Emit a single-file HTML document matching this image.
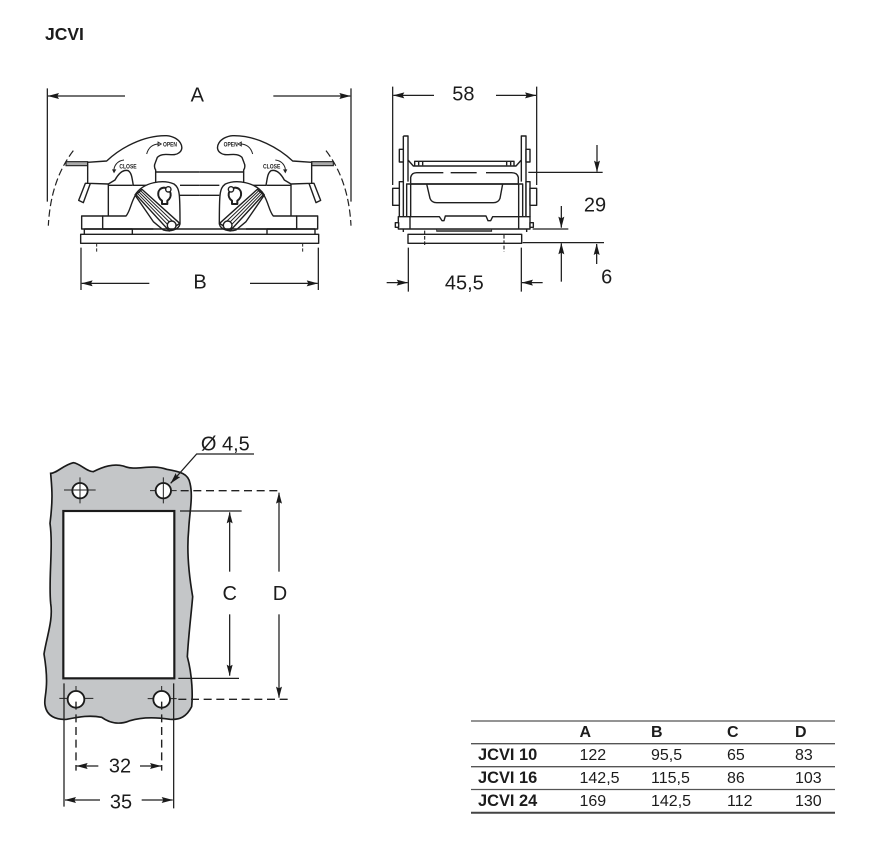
<!DOCTYPE html>
<html><head><meta charset="utf-8"><style>
html,body{margin:0;padding:0;background:#fff}
svg{display:block;filter:blur(.25px)}
text{font-family:"Liberation Sans",sans-serif;fill:#1c1c1c}
.l{fill:none;stroke:#1f1f1f;stroke-width:4.2;stroke-linejoin:round}
.t{fill:none;stroke:#222;stroke-width:3}
.f{fill:#fff;stroke:#1f1f1f;stroke-width:4.2;stroke-linejoin:round}
.d{fill:none;stroke:#1f1f1f;stroke-width:3.8}
.a{marker-end:url(#ar)}
.h{font-size:60px;text-anchor:middle}
.s{font-size:20px;font-weight:bold;text-anchor:middle}
.k{fill:none;stroke:#222;stroke-width:4.2;stroke-dasharray:24 14}
</style></head><body>
<svg width="876" height="863" viewBox="0 0 876 863" xmlns="http://www.w3.org/2000/svg">
<defs>
<marker id="ar" markerUnits="userSpaceOnUse" markerWidth="36" markerHeight="20" refX="33" refY="9" orient="auto">
<path d="M0 0L34 9L0 18L5 9Z" fill="#1a1a1a"/></marker>
<g id="half">
<path d="M100 212Q32 300 25 437" fill="none" stroke="#222" stroke-width="3.6" stroke-dasharray="22 10"/>
<rect x="78" y="245" width="65" height="12" fill="#aaa" stroke="#222" stroke-width="3.4"/>
<path class="f" d="M116 361L136 310L151 310L130 368Z"/>
<path class="f" d="M143 247L200 243C240 205 310 165 380 167C420 170 438 205 416 219C400 232 370 214 352 232L346 248C342 256 342 262 347 270L347 316L280 316C276 296 276 280 265 272C250 268 236 280 225 300L205 312L143 310Z"/>
<path class="l" d="M205 312V408M205 316H278"/>
<path class="f" d="M125 408H188V447H125Z"/>
<path class="l" d="M188 408H258C270 395 272 370 286 346M188 447H340"/>
<path class="l" d="M133 447V463M277 447V463M188 447H277"/>
<path class="l" d="M347 276H479M420 316H479M420 346H479"/>
<path class="f" d="M285 345C310 305 370 298 402 312C420 325 420 345 420 432C416 450 390 456 370 450L340 425Z"/>
<path class="f" d="M288 344L306 328L419 430L388 453Z"/>
<path class="t" d="M292.500 340L396 447M297 336L403.500 441.500M301.500 332L411 436"/>
<circle class="f" cx="395" cy="436" r="13"/>
<path class="l" style="stroke-width:6" d="M366 372V362C350 352 350 325 372 323C395 325 398 352 382 362V372Z"/>
<circle class="f" cx="385" cy="328" r="8"/>
<path class="t" d="M320 222C326 200 340 192 358 192M252 240C232 242 220 258 222 276"/>
<path d="M354 186L364 192L354 198Z" fill="none" stroke="#222" stroke-width="2.5"/>
<path d="M216 268L222 280L229 268Z" fill="#222"/>
<path class="k" style="stroke-width:3;stroke-dasharray:10 5" d="M170 490V516"/>
</g>
</defs>

<text x="45" y="40" font-size="17.5" font-weight="bold">JCVI</text>

<g transform="translate(40 80) scale(.33333)">
<path class="d" d="M22 25V365M933 25V365M123 503V630M835 503V630"/>
<path class="d a" d="M255 48H24"/><path class="d a" d="M700 48H931"/>
<path class="d a" d="M328 610H125"/><path class="d a" d="M630 610H833"/>
<text class="h" x="472" y="64">A</text><text class="h" x="480" y="625">B</text>
<use href="#half"/>
<use href="#half" transform="translate(958 0) scale(-1 1)"/>
<rect class="f" x="122" y="463" width="714" height="27"/>
<path class="l" d="M133 447H825"/>
<text class="s" x="390" y="200" textLength="42" lengthAdjust="spacingAndGlyphs">OPEN</text>
<text class="s" x="572" y="200" textLength="42" lengthAdjust="spacingAndGlyphs">OPEN</text>
<text class="s" x="264" y="265" textLength="52" lengthAdjust="spacingAndGlyphs">CLOSE</text>
<text class="s" x="695" y="265" textLength="52" lengthAdjust="spacingAndGlyphs">CLOSE</text>
</g>

<g transform="translate(380 80) scale(.33333)">
<path class="d" d="M38 20V315M470 20V315M85 503V635M424 503V635M445 277H668M458 447H565M428 488H672"/>
<path class="d a" d="M162 46H40"/><path class="d a" d="M348 46H468"/>
<path class="d a" d="M651 195V275"/><path class="d a" d="M544 378V443"/>
<path class="d a" d="M544 605V490"/><path class="d a" d="M650 552V492"/>
<path class="d a" d="M20 608H83"/><path class="d a" d="M488 608H426"/>
<text class="h" x="250" y="62">58</text><text class="h" x="645" y="395">29</text>
<text class="h" x="680" y="610">6</text><text class="h" x="253" y="628">45,5</text>
<path class="l" d="M70 168H84V240L100 258H408L424 240V168H438V410M70 168V410M84 240V305M424 240V305"/>
<path class="f" d="M58 208H70V246H58ZM438 208H450V246H438Z"/>
<path class="l" d="M104 258V244H402V258M116 244V256M128 244V256M380 244V256M392 244V256"/>
<path class="l" d="M92 310V292Q95 278 110 278H190M212 278H290M318 278H395Q412 278 415 292V310"/>
<path class="l" style="stroke-width:5" d="M92 312H415"/>
<path class="l" d="M140 312L150 355Q155 368 170 368H340Q355 368 360 355L368 312"/>
<path class="f" d="M58 305H70V410H58ZM80 312H92V410H80ZM416 312H428V410H416ZM438 305H450V410H438Z"/>
<path class="f" d="M38 325H58V376H38ZM450 325H470V376H450Z"/>
<path class="f" d="M55 410H178L186 422H192L196 408H318L324 422H332L338 410H450V447H55Z"/>
<path class="f" d="M46 428H56V442H46ZM450 428H460V442H450Z"/>
<rect x="170" y="447" width="165" height="7" fill="#666" stroke="#222" stroke-width="2.5"/>
<path class="l" d="M90 410V447M416 410V447M70 447V456M440 447V456"/>
<rect class="f" x="84" y="463" width="341" height="27"/>
<path class="t" style="stroke-width:3.4;stroke-dasharray:11 5" d="M134 452V498M372 465V514"/>
</g>

<g transform="translate(30 430) scale(.33333)">
<path d="M62 130C80 130 100 105 130 98C150 100 170 125 190 125C220 110 250 100 280 108C320 125 360 100 410 118C450 125 475 130 480 160C490 200 478 250 476 300C470 360 476 430 488 500C484 550 476 610 472 680C488 740 488 800 485 830C470 860 450 870 420 868C380 862 340 860 300 872C270 885 240 880 215 862C180 855 150 860 110 868C80 870 50 860 45 825C40 800 60 780 42 672C50 620 70 570 62 520C55 450 70 350 60 280C70 200 65 170 62 130Z" fill="#c4c6c8" stroke="#1a1a1a" stroke-width="5"/>
<rect x="100" y="243" width="333" height="502" fill="#fff" stroke="#1a1a1a" stroke-width="6.5"/>
<g fill="#fff" stroke="#1a1a1a" stroke-width="5.5">
<circle cx="150" cy="182" r="23"/><circle cx="400" cy="182" r="23"/>
<circle cx="138" cy="808" r="25"/><circle cx="395" cy="808" r="25"/>
</g>
<path class="t" d="M102 180H197M150 142V220M360 182H377M423 182H440M400 142V220M88 805H113M163 805H190M138 768V785M353 806H370M420 806H440M395 768V785"/>
<path class="d a" d="M672 72H500L422 160"/>
<text class="h" x="586" y="62">Ø 4,5</text>
<path class="k" d="M452 182H755M445 808H780"/>
<path class="d" d="M450 243H635M445 745H627M102 760V1130M431 760V1135"/>
<path class="k" d="M138 815V1022M395 815V1022"/>
<path class="d a" d="M599 425V247"/><path class="d a" d="M599 553V737"/>
<path class="d a" d="M747 425V188"/><path class="d a" d="M747 553V803"/>
<path class="d a" d="M205 1008H140"/><path class="d a" d="M330 1008H393"/>
<path class="d a" d="M210 1110H105"/><path class="d a" d="M335 1110H428"/>
<text class="h" x="599" y="510">C</text><text class="h" x="750" y="510">D</text>
<text class="h" x="270" y="1028">32</text><text class="h" x="273" y="1135">35</text>
</g>

<g stroke="#555" fill="none">
<path stroke-width="1.3" d="M471 721H835M471 743.7H835M471 766.7H835M471 789.5H835"/>
<path stroke-width="2" stroke="#444" d="M471 812.7H835"/>
</g>
<g font-weight="bold">
<text x="579.5" y="737" font-size="16">A</text><text x="651" y="737" font-size="16">B</text><text x="727" y="737" font-size="16">C</text><text x="795" y="737" font-size="16">D</text>
<text x="478" y="760" font-size="16.4">JCVI 10</text><text x="478" y="783" font-size="16.4">JCVI 16</text><text x="478" y="806" font-size="16.4">JCVI 24</text>
</g>
<g>
<text x="579.5" y="760" font-size="16">122</text><text x="651" y="760" font-size="16">95,5</text><text x="727" y="760" font-size="16">65</text><text x="795" y="760" font-size="16">83</text>
<text x="579.5" y="783" font-size="16">142,5</text><text x="651" y="783" font-size="16">115,5</text><text x="727" y="783" font-size="16">86</text><text x="795" y="783" font-size="16">103</text>
<text x="579.5" y="806" font-size="16">169</text><text x="651" y="806" font-size="16">142,5</text><text x="727" y="806" font-size="16">112</text><text x="795" y="806" font-size="16">130</text>
</g>
</svg>
</body></html>
